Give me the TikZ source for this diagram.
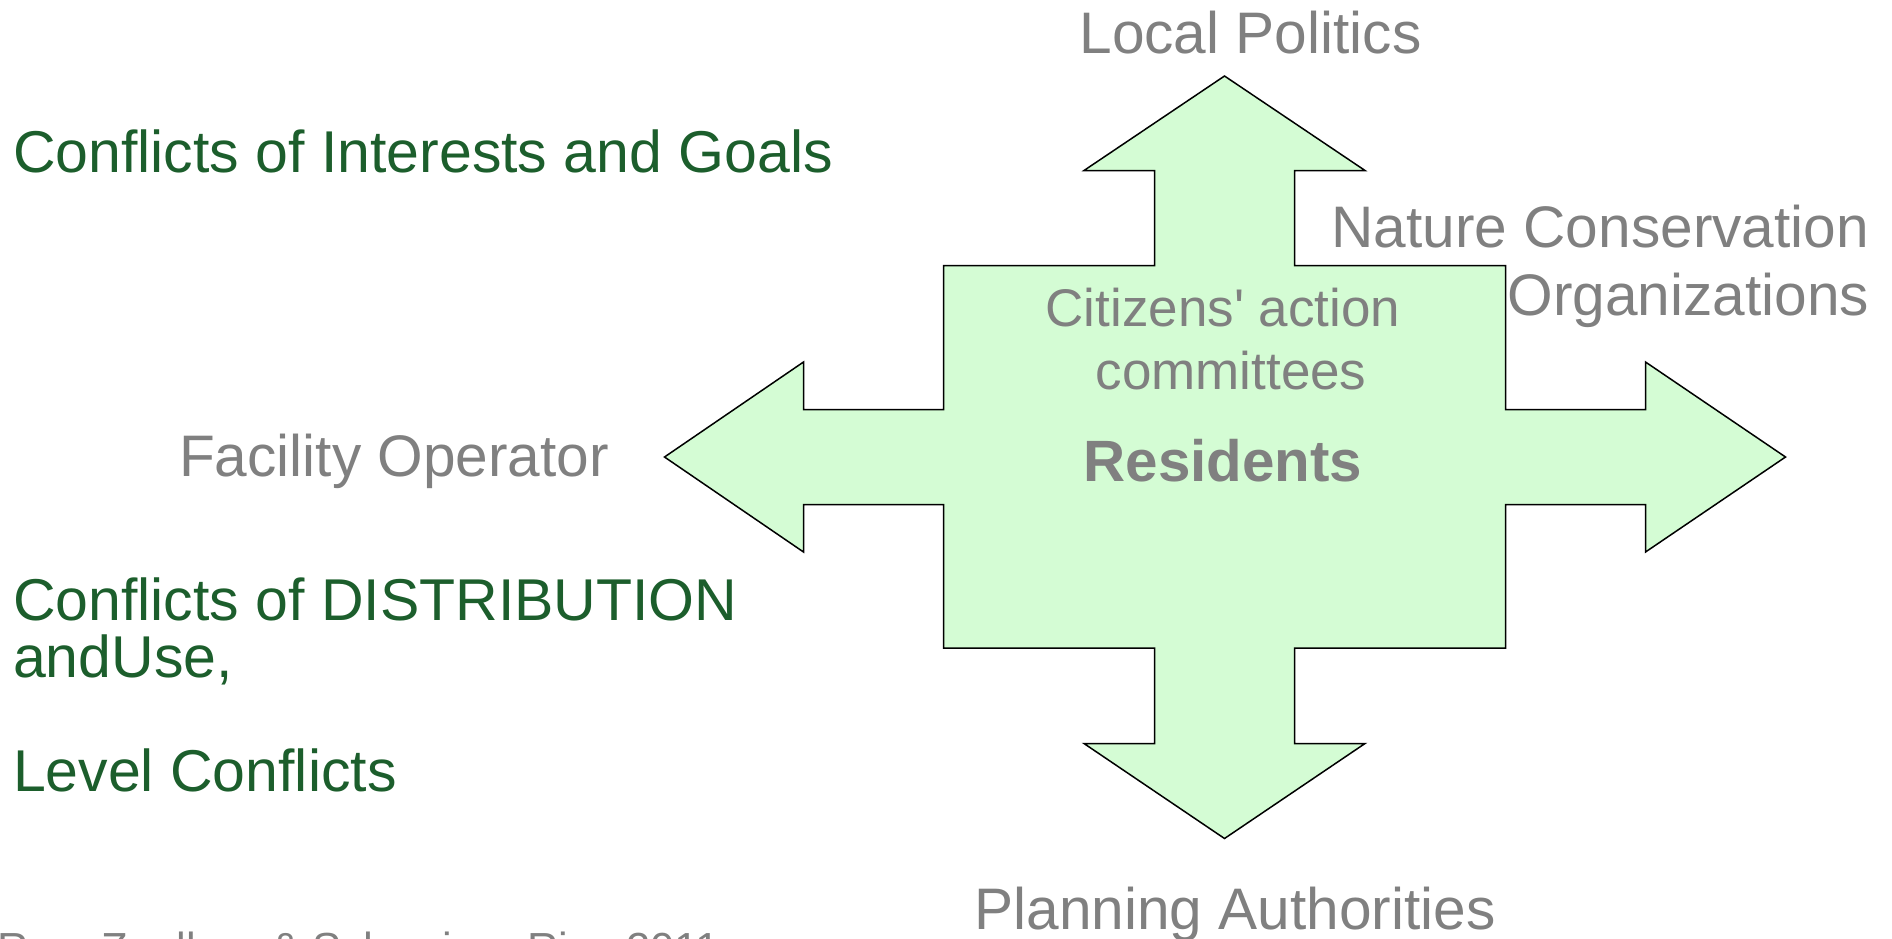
\documentclass[tikz,border=0pt]{standalone}
\usepackage{fontspec}
\setmainfont{Liberation Sans}
\definecolor{txtgray}{RGB}{128,128,128}
\definecolor{dkgreen}{RGB}{28,94,44}
\definecolor{crossfill}{RGB}{212,252,212}
\tikzset{
  graylbl/.style={inner sep=0pt, outer sep=0pt, text=txtgray, font=\fontsize{58.6}{70}\selectfont},
  smalllbl/.style={inner sep=0pt, outer sep=0pt, text=txtgray, font=\fontsize{53}{63}\selectfont},
  greenlbl/.style={inner sep=0pt, outer sep=0pt, text=dkgreen, font=\fontsize{59}{70}\selectfont},
  notelbl/.style={inner sep=0pt, outer sep=0pt, text=txtgray, font=\fontsize{43.5}{50}\selectfont},
  crossshape/.style={draw=black, line width=1.5pt, fill=crossfill, line join=miter}
}
\begin{document}
\begin{tikzpicture}[x=1pt,y=-1pt]
\clip (0,0) rectangle (1892,938);
% four-way arrow
\draw[crossshape] (1224.5,76) -- (1365,170.5) -- (1294.5,170.5) -- (1294.5,265.5)
  -- (1505.5,265.5) -- (1505.5,409.5) -- (1645.5,409.5) -- (1645.5,362)
  -- (1785.5,457) -- (1645.5,552) -- (1645.5,504.5) -- (1505.5,504.5)
  -- (1505.5,648) -- (1294.5,648) -- (1294.5,743.5) -- (1365,743.5)
  -- (1224.5,838.5) -- (1084,743.5) -- (1154.5,743.5) -- (1154.5,648)
  -- (943.5,648) -- (943.5,504.5) -- (803.5,504.5) -- (803.5,552)
  -- (664.5,457) -- (803.5,362) -- (803.5,409.5) -- (943.5,409.5)
  -- (943.5,265.5) -- (1154.5,265.5) -- (1154.5,170.5) -- (1084,170.5) -- cycle;
% labels
\node[graylbl, anchor=base] (localpol) at (1250.5,53.5) {Local Politics};
\node[greenlbl, anchor=base west] (conflictsig) at (13,172) {Conflicts of Interests and Goals};
\node[graylbl, anchor=base east] (nature1) at (1869,247) {Nature Conservation};
\node[graylbl, anchor=base east] (nature2) at (1869,315.5) {Organizations};
\node[smalllbl, anchor=base] (citizens1) at (1223,326) {Citizens\textquotesingle{} action};
\node[smalllbl, anchor=base] (citizens2) at (1231,389) {committees};
\node[graylbl, anchor=base, font=\fontsize{58.3}{70}\selectfont\bfseries] (residents) at (1223,481) {Residents};
\node[graylbl, anchor=base west] (facility) at (179,476) {Facility Operator};
\node[greenlbl, anchor=base west] (distrib1) at (13,620) {Conflicts of DISTRIBUTION};
\node[greenlbl, anchor=base west] (distrib2) at (13,677) {andUse,};
\node[greenlbl, anchor=base west] (level) at (13,791) {Level Conflicts};
\node[graylbl, anchor=base] (planning) at (1235,929) {Planning Authorities};
\node[notelbl, anchor=base west] (source) at (-2,963) {Rau, Zoellner \& Schweizer-Ries 2011};
\end{tikzpicture}
\end{document}
